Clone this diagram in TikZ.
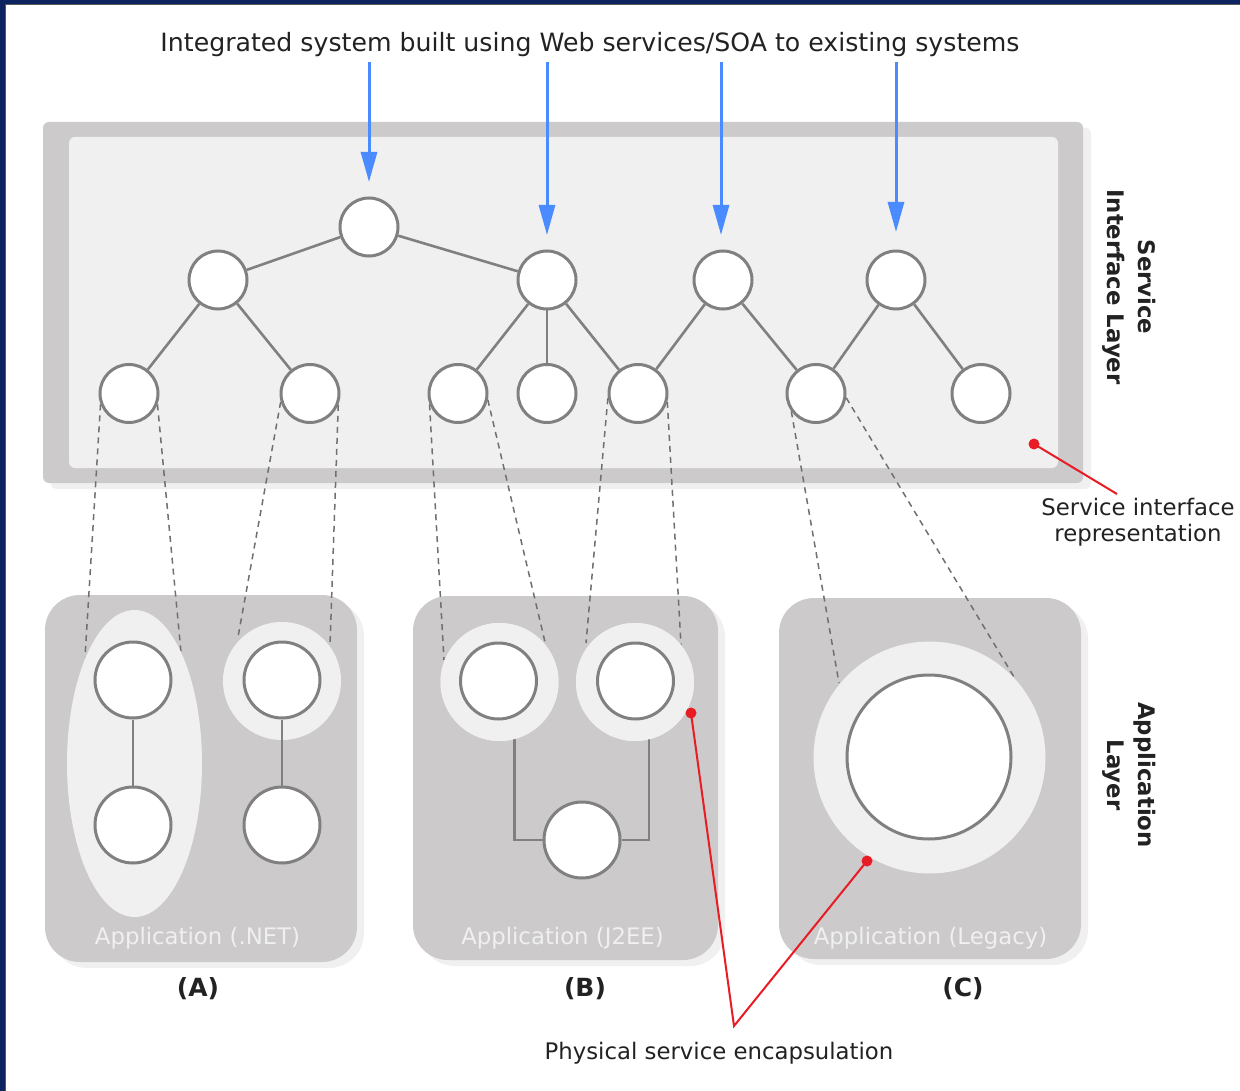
\documentclass[tikz,border=0pt]{standalone}
\usepackage{fontspec}
\setmainfont{DejaVu Sans}
\usetikzlibrary{arrows.meta,shapes.geometric}
\definecolor{panelgray}{RGB}{204,202,203}
\definecolor{lightfill}{RGB}{240,240,240}
\definecolor{nodeline}{RGB}{128,128,128}
\definecolor{dashgray}{RGB}{112,112,112}
\definecolor{arrowblue}{RGB}{74,139,255}
\definecolor{markred}{RGB}{232,28,36}
\definecolor{framenavy}{RGB}{12,35,96}
\definecolor{txt}{RGB}{34,34,34}
\begin{document}
\begin{tikzpicture}[x=1pt,y=-1pt,
  svc/.style={circle,draw=nodeline,line width=3pt,fill=white,minimum size=58pt,inner sep=0pt},
  appnode/.style={circle,draw=nodeline,line width=3pt,fill=white,minimum size=76pt,inner sep=0pt},
  halo/.style={circle,fill=lightfill,minimum size=118pt,inner sep=0pt},
  treeedge/.style={draw=nodeline,line width=2.6pt},
  maplink/.style={draw=dashgray,line width=1.5pt,dash pattern=on 6pt off 5pt},
  callout/.style={draw=markred,line width=2pt},
  reddot/.style={circle,fill=markred,minimum size=11pt,inner sep=0pt},
  inflow/.style={draw=arrowblue,line width=3pt,-{Triangle[width=16pt,length=30pt]}},
  lbl/.style={font=\fontsize{22.8}{26}\selectfont,text=txt,inner sep=0pt},
  applbl/.style={font=\fontsize{22.8}{26}\selectfont,text=lightfill,inner sep=0pt,anchor=base},
  caselbl/.style={font=\fontsize{25}{28}\selectfont\bfseries,text=txt,inner sep=0pt,anchor=base},
  layerlbl/.style={font=\fontsize{22.8}{31}\selectfont\bfseries,text=txt,inner sep=0pt,rotate=-90,align=center},
  appbox/.style={fill=panelgray,rounded corners=35pt},
  appshadow/.style={fill=lightfill,rounded corners=35pt}
]
\useasboundingbox (0,0) rectangle (1240,1091);
\fill[white] (0,0) rectangle (1240,1091);
% frame
\fill[framenavy] (0,0) rectangle (1240,4);
\fill[framenavy] (0,0) rectangle (5,1091);
\draw[gray!70!black,line width=0.8pt] (5.4,4.4) -- (1240,4.4);
\draw[gray!70!black,line width=0.8pt] (5.4,4.4) -- (5.4,1091);

% service interface panel
\fill[lightfill,rounded corners=6pt] (51,128) rectangle (1091,489);
\fill[panelgray,rounded corners=6pt] (43,122) rectangle (1083,483);
\fill[lightfill,rounded corners=6pt] (69,137) rectangle (1058,468);

% application boxes
\fill[appshadow] (52,601) rectangle (364,968);
\fill[appbox] (45,595) rectangle (357,962);
\fill[appshadow] (420,602) rectangle (725,966);
\fill[appbox] (413,596) rectangle (718,960);
\fill[appshadow] (786,604) rectangle (1088,965);
\fill[appbox] (779,598) rectangle (1081,959);

% service nodes (top tree)
\node[svc] (r)  at (369,227) {};
\node[svc] (s1) at (218,280) {};
\node[svc] (s2) at (547,280) {};
\node[svc] (s3) at (723,280) {};
\node[svc] (s4) at (896,280) {};
\node[svc] (t1) at (129,393.5) {};
\node[svc] (t2) at (310,393.5) {};
\node[svc] (t3) at (458,393.5) {};
\node[svc] (t4) at (547,393.5) {};
\node[svc] (t5) at (638,393.5) {};
\node[svc] (t6) at (816,393.5) {};
\node[svc] (t7) at (981,393.5) {};

% dashed mapping endpoints
\coordinate (d1) at (85,657);
\coordinate (d2) at (181,652);
\coordinate (d3) at (238,637);
\coordinate (d4) at (330,645);
\coordinate (d5) at (444,660);
\coordinate (d6) at (545,642);
\coordinate (d7) at (586,643);
\coordinate (d8) at (681,645);
\coordinate (d9) at (839,683);
\coordinate (d10) at (1014,677);

\draw[maplink] (t1.201) -- (d1);
\draw[maplink] (t1.339) -- (d2);
\draw[maplink] (t2.196) -- (d3);
\draw[maplink] (t2.338) -- (d4);
\draw[maplink] (t3.201) -- (d5);
\draw[maplink] (t3.348) -- (d6);
\draw[maplink] (t5.189) -- (d7);
\draw[maplink] (t5.344) -- (d8);
\draw[maplink] (t6.216) -- (d9);
\draw[maplink] (t6.352) -- (d10);

% halos
\node[ellipse,fill=lightfill,minimum width=135pt,minimum height=307pt,inner sep=0pt] (ah1) at (134.5,763.5) {};
\node[halo] (ah2) at (282,681) {};
\node[halo] (bh1) at (499.5,682) {};
\node[halo] (bh2) at (635,682) {};
\node[halo,minimum size=232pt] (ch1) at (929.5,757.5) {};

% application nodes
\node[appnode] (b3) at (582,840) {};
\draw[treeedge] ([xshift=15pt]bh1.center) |- (b3.west);
\draw[treeedge] ([xshift=14pt]bh2.center) |- (b3.east);
\node[halo] at (bh1) {};
\node[halo] at (bh2) {};

\node[appnode] (a1) at (133,680) {};
\node[appnode] (a2) at (133,825) {};
\node[appnode] (a3) at (282,680) {};
\node[appnode] (a4) at (282,825) {};
\draw[treeedge] (a1) -- (a2);
\draw[treeedge] (a3) -- (a4);
\node[appnode] (b1) at (498.5,681) {};
\node[appnode] (b2) at (635.5,681) {};
\node[appnode,minimum size=164pt] (c1) at (929,757) {};

% tree edges
\draw[treeedge] (r) -- (s1);
\draw[treeedge] (r) -- (s2);
\draw[treeedge] (s1) -- (t1);
\draw[treeedge] (s1) -- (t2);
\draw[treeedge] (s2) -- (t3);
\draw[treeedge] (s2) -- (t4);
\draw[treeedge] (s2) -- (t5);
\draw[treeedge] (s3) -- (t5);
\draw[treeedge] (s3) -- (t6);
\draw[treeedge] (s4) -- (t6);
\draw[treeedge] (s4) -- (t7);

% title and incoming arrows
\node[lbl,font=\fontsize{25.2}{28}\selectfont,anchor=base] (title) at (590,52) {Integrated system built using Web services/SOA to existing systems};
\coordinate (i1) at (369,62);
\coordinate (i2) at (547,62);
\coordinate (i3) at (721,62);
\coordinate (i4) at (896,62);
\coordinate (e1) at (369,182);
\coordinate (e2) at (547,235);
\coordinate (e3) at (721,235);
\coordinate (e4) at (896,232);
\draw[inflow] (i1) -- (e1);
\draw[inflow] (i2) -- (e2);
\draw[inflow] (i3) -- (e3);
\draw[inflow] (i4) -- (e4);

% box labels
\node[applbl] (la) at (197.5,944) {Application (.NET)};
\node[applbl] (lb) at (562.5,944) {Application (J2EE)};
\node[applbl] (lc) at (930.5,944) {Application (Legacy)};
\node[caselbl] (ca) at (198,996) {(A)};
\node[caselbl] (cb) at (585,996) {(B)};
\node[caselbl] (cc) at (963,996) {(C)};

% layer labels
\node[layerlbl] (sil) at (1129,287) {Service\\Interface Layer};
\node[layerlbl] (apl) at (1129,775) {Application\\Layer};

% callouts
\node[lbl,align=center] (sirep) at (1138,522) {Service interface\\representation};
\coordinate (scall) at (1117,494);
\node[reddot] (sdot) at (1034,444) {};
\draw[callout] (sdot.center) -- (scall);

\node[lbl,anchor=base] (pse) at (719,1059) {Physical service encapsulation};
\coordinate (apex) at (734,1026);
\node[reddot] (bdot) at (691,713) {};
\node[reddot] (cdot) at (867,861) {};
\draw[callout] (bdot.center) -- (apex) -- (cdot.center);
\end{tikzpicture}
\end{document}
